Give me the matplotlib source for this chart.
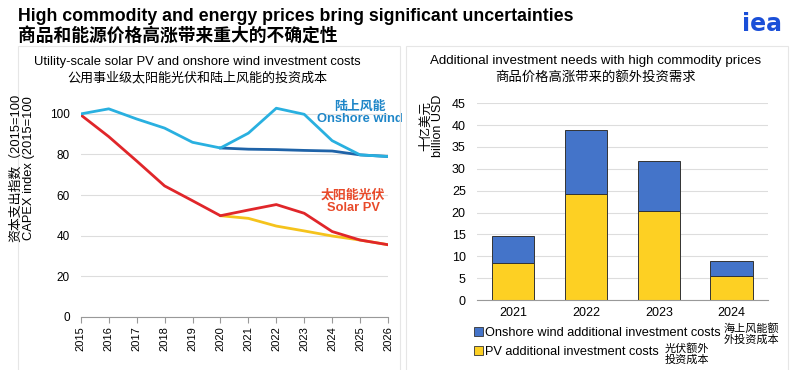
import matplotlib.pyplot as plt
from matplotlib.patches import Patch, Rectangle

plt.rcParams['font.family'] = ['Liberation Sans', 'Noto Sans CJK SC', 'DejaVu Sans']

# left chart data
years = [2015, 2016, 2017, 2018, 2019, 2020, 2021, 2022, 2023, 2024, 2025, 2026]
wind_high = [100, 102.5, 97.5, 93, 86, 83.2, 90.5, 102.8, 99.8, 86.8, 79.8, 79]
wind_base_years = [2020, 2021, 2022, 2023, 2024, 2025, 2026]
wind_base = [83.2, 82.6, 82.4, 82, 81.7, 79.8, 79]
solar_high = [99.5, 88.8, 76.8, 64.5, 57.2, 49.8, 52.6, 55.3, 51, 42, 37.8, 35.5]
solar_base_years = [2020, 2021, 2022, 2023, 2024, 2025, 2026]
solar_base = [49.8, 48.5, 44.7, 42.3, 39.8, 37.8, 35.5]

# right chart data
bar_years = ['2021', '2022', '2023', '2024']
pv_costs = [8.4, 24.2, 20.4, 5.6]
wind_costs = [6.2, 14.7, 11.4, 3.4]

fig = plt.figure(figsize=(8, 3.7), dpi=100)

# panel frames
fig.add_artist(Rectangle((0.023, -0.01), 0.477, 0.885, transform=fig.transFigure,
                         fill=False, edgecolor='#e6e6e6', lw=0.8))
fig.add_artist(Rectangle((0.507, -0.01), 0.478, 0.885, transform=fig.transFigure,
                         fill=False, edgecolor='#e6e6e6', lw=0.8))

fig.text(0.022, 0.955, 'High commodity and energy prices bring significant uncertainties',
         fontsize=12.8, fontweight='bold', va='center')
fig.text(0.022, 0.903, '商品和能源价格高涨带来重大的不确定性',
         fontsize=12.8, fontweight='bold', va='center')
fig.text(0.978, 0.935, 'iea', fontsize=17, fontweight='bold', color='#1a4fd8',
         ha='right', va='center', family='DejaVu Sans')

# left chart
ax1 = fig.add_axes([0.101, 0.144, 0.384, 0.592])
ax1.plot(solar_base_years, solar_base, color='#f5c31c', lw=2)
ax1.plot(years, solar_high, color='#e0262a', lw=2)
ax1.plot(wind_base_years, wind_base, color='#1f63a8', lw=2)
ax1.plot(years, wind_high, color='#29b0e0', lw=2)
ax1.set_xlim(2015, 2026)
ax1.set_ylim(0, 108)
ax1.set_yticks(range(0, 101, 20))
ax1.set_xticks(years)
ax1.set_xticklabels([str(y) for y in years], rotation=90, fontsize=8)
ax1.tick_params(axis='y', length=0, labelsize=8.5, pad=8)
ax1.tick_params(axis='x', length=4, color='#999999', pad=3)
ax1.grid(axis='y', color='#dddddd', lw=0.8)
ax1.set_axisbelow(True)
for s in ['top', 'right', 'left']:
    ax1.spines[s].set_visible(False)
ax1.spines['bottom'].set_color('#999999')
ax1.text(2025.0, 100.5, '陆上风能\nOnshore wind', color='#1e86c8', fontsize=9.3,
         fontweight='bold', ha='center', va='center', linespacing=1.1, clip_on=False)
ax1.text(2024.75, 56.8, '太阳能光伏\nSolar PV', color='#e84a2a', fontsize=9.3,
         fontweight='bold', ha='center', va='center', linespacing=1.1)
fig.text(0.028, 0.546, '资本支出指数（2015=100\nCAPEX index (2015=100', rotation=90,
         fontsize=9.3, ha='center', va='center', linespacing=1.05)
fig.text(0.247, 0.832, 'Utility-scale solar PV and onshore wind investment costs',
         fontsize=9.4, ha='center', va='center')
fig.text(0.247, 0.79, '公用事业级太阳能光伏和陆上风能的投资成本',
         fontsize=9.4, ha='center', va='center')

# right chart
ax2 = fig.add_axes([0.596, 0.189, 0.364, 0.532])
x = range(len(bar_years))
ax2.bar(x, pv_costs, width=0.58, color='#fdd023', edgecolor='#333333', lw=0.7)
ax2.bar(x, wind_costs, width=0.58, bottom=pv_costs, color='#4474c9',
        edgecolor='#333333', lw=0.7)
ax2.set_xlim(-0.5, 3.5)
ax2.set_ylim(0, 45)
ax2.set_yticks(range(0, 46, 5))
ax2.set_xticks(list(x))
ax2.set_xticklabels(bar_years, fontsize=9)
ax2.tick_params(axis='y', length=0, labelsize=9, pad=8)
ax2.tick_params(axis='x', length=0, pad=5)
ax2.grid(axis='y', color='#dddddd', lw=0.8)
ax2.set_axisbelow(True)
for s in ['top', 'right', 'left']:
    ax2.spines[s].set_visible(False)
ax2.spines['bottom'].set_color('#999999')
fig.text(0.54, 0.66, '十亿美元\nbillion USD', rotation=90, fontsize=9,
         ha='center', va='center', linespacing=1.0)
fig.text(0.744, 0.835, 'Additional investment needs with high commodity prices',
         fontsize=9.6, ha='center', va='center')
fig.text(0.744, 0.792, '商品价格高涨带来的额外投资需求',
         fontsize=9.6, ha='center', va='center')

handles = [Patch(facecolor='#4474c9', edgecolor='#333333', lw=0.6),
           Patch(facecolor='#fdd023', edgecolor='#333333', lw=0.6)]
fig.legend(handles, ['Onshore wind additional investment costs', 'PV additional investment costs'],
           loc='upper left', bbox_to_anchor=(0.592, 0.117), frameon=False, fontsize=9.2,
           handlelength=0.7, handleheight=0.7, handletextpad=0.2, labelspacing=0.55,
           borderaxespad=0, borderpad=0)
fig.text(0.904, 0.097, '海上风能额\n外投资成本', fontsize=8, ha='left', va='center',
         linespacing=1.15)
fig.text(0.831, 0.044, '光伏额外\n投资成本', fontsize=8, ha='left', va='center',
         linespacing=1.15)

fig.savefig('out.png', dpi=100)
